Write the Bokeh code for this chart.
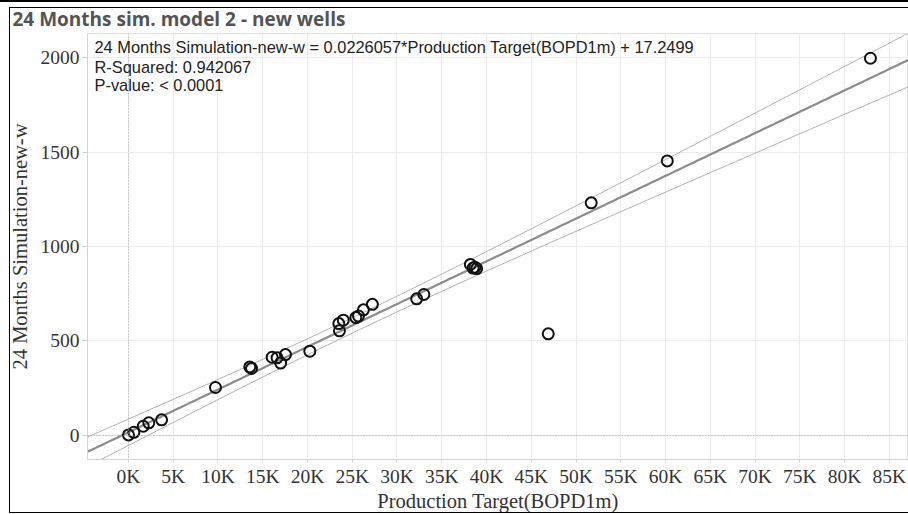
import numpy as np
from bokeh.plotting import figure
from bokeh.models import Label, Span, FixedTicker, InlineStyleSheet
from bokeh.embed import file_html
from bokeh.resources import INLINE

# Production target (BOPD, first month) vs. 24-month simulated volume, new wells
production_target = [0, 600, 1650, 2270, 3700, 9720, 13550, 13750, 16050, 16600,
                     17000, 17540, 20260, 23500, 23570, 24000, 25400, 25700, 26250, 27250,
                     32200, 33000, 38200, 38500, 38700, 38900, 46900, 51700, 60200, 82900]
simulation_24m = [3, 17, 49, 67, 83, 254, 363, 355, 414, 411,
                  383, 428, 446, 592, 554, 610, 624, 632, 665, 694,
                  723, 746, 905, 886, 890, 883, 538, 1231, 1453, 1996]

# Linear trend model
SLOPE = 0.0226057
INTERCEPT = 17.2499
R_SQUARED = "0.942067"
P_VALUE = "< 0.0001"
T_CRIT = 2.048  # two-sided 95 %, n - 2 = 28 degrees of freedom

x_ticks = [0, 5000, 10000, 15000, 20000, 25000, 30000, 35000, 40000,
           45000, 50000, 55000, 60000, 65000, 70000, 75000, 80000, 85000]
x_tick_labels = ["0K", "5K", "10K", "15K", "20K", "25K", "30K", "35K", "40K",
                 "45K", "50K", "55K", "60K", "65K", "70K", "75K", "80K", "85K"]
y_ticks = [0, 500, 1000, 1500, 2000]

X_LO, X_HI = -4580, 87150
Y_LO, Y_HI = -127, 2127

SERIF = "Liberation Serif"
SANS = "Liberation Sans"

p = figure(width=908, height=514, x_range=(X_LO, X_HI), y_range=(Y_LO, Y_HI),
           output_backend="svg", toolbar_location=None,
           min_border_left=87, min_border_right=0, min_border_top=33, min_border_bottom=55,
           background_fill_color="white", border_fill_color="white")

# Title
p.title.text = "24 Months sim. model 2 - new wells"
p.title.text_font = "Open Sans"
p.title.text_font_size = "19px"
p.title.text_font_style = "bold"
p.title.text_color = "#545454"
p.title.align = "left"
p.title.offset = -75
p.title.standoff = 4

p.outline_line_color = "#e3e3e3"

# Axes
p.xaxis.ticker = FixedTicker(ticks=x_ticks)
p.xaxis.major_label_overrides = {t: lab for t, lab in zip(x_ticks, x_tick_labels)}
p.yaxis.ticker = FixedTicker(ticks=y_ticks)
p.xaxis.axis_label = "Production Target(BOPD1m)"
p.yaxis.axis_label = "24 Months Simulation-new-w"

for ax in (p.xaxis, p.yaxis):
    ax.axis_line_color = "#d4d4d4"
    ax.major_tick_line_color = "#d4d4d4"
    ax.major_tick_in = 0
    ax.minor_tick_line_color = None
    ax.major_label_text_font = SERIF
    ax.major_label_text_font_size = "19.5px"
    ax.major_label_text_color = "#333333"
    ax.axis_label_text_font = SERIF
    ax.axis_label_text_font_size = "20.5px"
    ax.axis_label_text_font_style = "normal"
    ax.axis_label_text_color = "#333333"

p.xaxis.major_tick_out = 3
p.xaxis.major_label_standoff = 3
p.xaxis.axis_label_standoff = 0
p.yaxis.major_tick_out = 5
p.yaxis.major_label_standoff = 3
p.yaxis.axis_label_standoff = 7

# Grid
p.xgrid.ticker = FixedTicker(ticks=x_ticks)
p.ygrid.ticker = FixedTicker(ticks=y_ticks)
p.xgrid.grid_line_color = "#ececec"
p.ygrid.grid_line_color = "#ececec"

# Dotted zero lines
p.add_layout(Span(location=0, dimension="width", line_color="#a8a8a8",
                  line_dash="1 2", line_width=1))
p.add_layout(Span(location=0, dimension="height", line_color="#a8a8a8",
                  line_dash="1 2", line_width=1))

# Trend line with 95 % confidence band of the mean
x = np.array(production_target, dtype=float)
y = np.array(simulation_24m, dtype=float)
n = len(x)
x_mean = x.mean()
sxx = ((x - x_mean) ** 2).sum()
resid = y - (SLOPE * x + INTERCEPT)
s = np.sqrt((resid ** 2).sum() / (n - 2))

xs = np.linspace(X_LO, X_HI, 300)
fit = SLOPE * xs + INTERCEPT
half = T_CRIT * s * np.sqrt(1.0 / n + (xs - x_mean) ** 2 / sxx)

p.line(xs, fit + half, line_color="#b0b0b0", line_width=1)
p.line(xs, fit - half, line_color="#b0b0b0", line_width=1)
p.line(xs, fit, line_color="#8c8c8c", line_width=2.2)

# Wells
p.scatter(production_target, simulation_24m, marker="circle", size=11,
          fill_color=None, line_color="#111111", line_width=2)

# Model description
ann_x = (94 - 128) / 8.95 * 1000
for txt, yv in [
    (f"24 Months Simulation-new-w = {SLOPE}*Production Target(BOPD1m) + {INTERCEPT}", 2053),
    (f"R-Squared: {R_SQUARED}", 1952),
    (f"P-value: {P_VALUE}", 1852),
]:
    p.add_layout(Label(x=ann_x, y=yv, text=txt, text_font=SANS, text_font_size="16.4px",
                       text_color="#222222", text_baseline="middle", text_align="left"))

# Sheet frame lines
p.stylesheets = [InlineStyleSheet(css="""
:host { position: relative; }
:host::before { content: ''; position: absolute; left: 0; top: 0; right: 0; height: 2px;
  background: #000; pointer-events: none; z-index: 5; }
:host::after { content: ''; position: absolute; left: 9px; top: 7px; right: 0; bottom: 1px;
  border: 1px solid #000; border-right: none; pointer-events: none; z-index: 5; }
""")]

open("out.html", "w").write(file_html(p, INLINE))
